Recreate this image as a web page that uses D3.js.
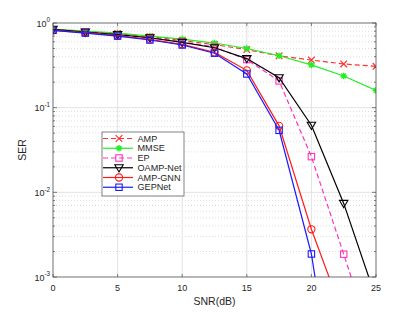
<!DOCTYPE html>
<html>
<head>
<meta charset="utf-8">
<script src="https://cdn.jsdelivr.net/npm/d3@7"></script>
<style>
body { margin: 0; background: #fff; }
svg { font-family: "Liberation Sans", Arial, sans-serif; }
</style>
</head>
<body>
<svg id="chart" width="415" height="312"></svg>
<script>
'use strict';

var snr = [0, 2.5, 5, 7.5, 10, 12.5, 15, 17.5, 20, 22.5, 25];

var serAMP = [0.84, 0.79, 0.75, 0.69, 0.62, 0.555, 0.485, 0.41, 0.365, 0.328, 0.308];
var serMMSE = [0.85, 0.80, 0.76, 0.70, 0.645, 0.58, 0.50, 0.41, 0.32, 0.237, 0.16];
var serEP = [0.83, 0.78, 0.73, 0.67, 0.60, 0.52, 0.37, 0.207, 0.0264, 0.00186, 0.000125];
var serOAMP = [0.84, 0.78, 0.73, 0.67, 0.59, 0.51, 0.38, 0.226, 0.062, 0.0074, 0.00056];
var serAMPGNN = [0.82, 0.77, 0.71, 0.64, 0.56, 0.45, 0.276, 0.061, 0.00366, 0.00034, null];
var serGEPNet = [0.82, 0.76, 0.70, 0.63, 0.55, 0.44, 0.25, 0.054, 0.00187, 0.000007, null];

var xTicks = [0, 5, 10, 15, 20, 25];
var yDecades = [0, -1, -2, -3];

var series = [
	{name: 'AMP', values: serAMP, color: '#ff3030', dash: '5,3', marker: 'x'},
	{name: 'MMSE', values: serMMSE, color: '#22ee22', dash: null, marker: 'star'},
	{name: 'EP', values: serEP, color: '#ff33bb', dash: '5,3', marker: 'square'},
	{name: 'OAMP-Net', values: serOAMP, color: '#000000', dash: null, marker: 'tri'},
	{name: 'AMP-GNN', values: serAMPGNN, color: '#ff1a1a', dash: null, marker: 'circle'},
	{name: 'GEPNet', values: serGEPNet, color: '#1a1aff', dash: null, marker: 'square'}
];

var svg = d3.select('#chart');
var pLeft = 53, pRight = 376, pTop = 23, pBottom = 277;

var x = d3.scaleLinear().domain([0, 25]).range([pLeft, pRight]);
var y = d3.scaleLog().domain([1e-3, 1]).range([pBottom, pTop]);

// grid
var grid = svg.append('g');
yDecades.forEach(function(e) {
	if (e < 0) {
		for (var k = 2; k <= 9; k++) {
			var v = k * Math.pow(10, e);
			grid.append('line')
				.attr('x1', pLeft).attr('x2', pRight)
				.attr('y1', y(v)).attr('y2', y(v))
				.style('stroke', '#c8c8c8').style('stroke-width', 0.6)
				.style('stroke-dasharray', '1,2');
		}
	}
	if (e < 0 && e > -3) {
		grid.append('line')
			.attr('x1', pLeft).attr('x2', pRight)
			.attr('y1', y(Math.pow(10, e))).attr('y2', y(Math.pow(10, e)))
			.style('stroke', '#e2e2e2').style('stroke-width', 1);
	}
});
xTicks.forEach(function(t) {
	if (t > 0 && t < 25) {
		grid.append('line')
			.attr('x1', x(t)).attr('x2', x(t))
			.attr('y1', pTop).attr('y2', pBottom)
			.style('stroke', '#e2e2e2').style('stroke-width', 1);
	}
});

// data
svg.append('clipPath').attr('id', 'clip')
	.append('rect').attr('x', pLeft).attr('y', pTop)
	.attr('width', pRight - pLeft).attr('height', pBottom - pTop);

var plot = svg.append('g').attr('clip-path', 'url(#clip)');

var line = d3.line()
	.defined(function(d) { return d[1] != null; })
	.x(function(d) { return x(d[0]); })
	.y(function(d) { return y(d[1]); });

var drawMarker = function(g, type, cx, cy, color) {
	var s = 3.3;
	if (type == 'x') {
		g.append('path')
			.attr('d', 'M' + (cx - s) + ',' + (cy - s) + 'L' + (cx + s) + ',' + (cy + s) +
				'M' + (cx - s) + ',' + (cy + s) + 'L' + (cx + s) + ',' + (cy - s))
			.style('stroke', color).style('stroke-width', 1.2).style('fill', 'none');
	} else if (type == 'star') {
		var p = '';
		for (var a = 0; a < 4; a++) {
			var ang = a * Math.PI / 4;
			p += 'M' + (cx - s * Math.cos(ang)) + ',' + (cy - s * Math.sin(ang)) +
				'L' + (cx + s * Math.cos(ang)) + ',' + (cy + s * Math.sin(ang));
		}
		g.append('path').attr('d', p)
			.style('stroke', color).style('stroke-width', 1.4).style('fill', 'none');
	} else if (type == 'square') {
		g.append('rect')
			.attr('x', cx - 3.2).attr('y', cy - 3.2).attr('width', 6.4).attr('height', 6.4)
			.style('stroke', color).style('stroke-width', 1.1).style('fill', 'none');
	} else if (type == 'tri') {
		g.append('path')
			.attr('d', 'M' + (cx - 4.2) + ',' + (cy - 3) + 'L' + (cx + 4.2) + ',' + (cy - 3) +
				'L' + cx + ',' + (cy + 4.2) + 'Z')
			.style('stroke', color).style('stroke-width', 1.1).style('fill', 'none');
	} else if (type == 'circle') {
		g.append('circle').attr('cx', cx).attr('cy', cy).attr('r', 3.6)
			.style('stroke', color).style('stroke-width', 1.1).style('fill', 'none');
	}
};

series.forEach(function(s) {
	var pts = snr.map(function(v, i) { return [v, s.values[i]]; });
	plot.append('path')
		.datum(pts)
		.attr('d', line)
		.style('fill', 'none')
		.style('stroke', s.color)
		.style('stroke-width', 1.2)
		.style('stroke-dasharray', s.dash);
	pts.forEach(function(p) {
		if (p[1] != null && p[1] >= 1e-3) {
			drawMarker(plot, s.marker, x(p[0]), y(p[1]), s.color);
		}
	});
});

// axes box
var axisColor = '#4d4d4d';
svg.append('rect')
	.attr('x', pLeft).attr('y', pTop)
	.attr('width', pRight - pLeft).attr('height', pBottom - pTop)
	.style('fill', 'none').style('stroke', axisColor).style('stroke-width', 0.8);

var ticks = svg.append('g').style('stroke', axisColor).style('stroke-width', 0.7);
xTicks.forEach(function(t) {
	ticks.append('line').attr('x1', x(t)).attr('x2', x(t)).attr('y1', pBottom).attr('y2', pBottom - 3);
	ticks.append('line').attr('x1', x(t)).attr('x2', x(t)).attr('y1', pTop).attr('y2', pTop + 3);
	svg.append('text')
		.attr('x', x(t)).attr('y', pBottom + 14)
		.attr('text-anchor', 'middle')
		.style('font-size', '9px').style('fill', '#262626')
		.text(t);
});
yDecades.forEach(function(e) {
	var v = Math.pow(10, e);
	ticks.append('line').attr('x1', pLeft).attr('x2', pLeft + 4).attr('y1', y(v)).attr('y2', y(v));
	ticks.append('line').attr('x1', pRight).attr('x2', pRight - 4).attr('y1', y(v)).attr('y2', y(v));
	if (e < 0) {
		for (var k = 2; k <= 9; k++) {
			var m = k * v;
			ticks.append('line').attr('x1', pLeft).attr('x2', pLeft + 2).attr('y1', y(m)).attr('y2', y(m));
			ticks.append('line').attr('x1', pRight).attr('x2', pRight - 2).attr('y1', y(m)).attr('y2', y(m));
		}
	}
	var lbl = svg.append('text')
		.attr('x', pLeft - 3).attr('y', y(v) + 3.5)
		.attr('text-anchor', 'end')
		.style('font-size', '9px').style('fill', '#262626');
	lbl.append('tspan').text('10');
	lbl.append('tspan').attr('dy', -4.2).style('font-size', '6.3px').text(e);
});

svg.append('text')
	.attr('x', x(12.5)).attr('y', 305)
	.attr('text-anchor', 'middle')
	.style('font-size', '10.5px').style('fill', '#262626')
	.text('SNR(dB)');

svg.append('text')
	.attr('transform', 'translate(26,' + ((pTop + pBottom) / 2) + ') rotate(-90)')
	.attr('text-anchor', 'middle')
	.style('font-size', '10.5px').style('fill', '#262626')
	.text('SER');

// legend
var lg = svg.append('g').attr('transform', 'translate(102,132)');
lg.append('rect').attr('width', 82).attr('height', 64)
	.style('fill', '#fff').style('stroke', axisColor).style('stroke-width', 0.7);
series.forEach(function(s, i) {
	var ly = 6.5 + i * 9.75;
	lg.append('line').attr('x1', 1).attr('x2', 31).attr('y1', ly).attr('y2', ly)
		.style('stroke', s.color).style('stroke-width', 1.2)
		.style('stroke-dasharray', s.dash);
	drawMarker(lg, s.marker, 17, ly, s.color);
	lg.append('text').attr('x', 35.5).attr('y', ly + 3.2)
		.style('font-size', '9.1px').style('fill', '#262626')
		.text(s.name);
});
</script>
</body>
</html>
